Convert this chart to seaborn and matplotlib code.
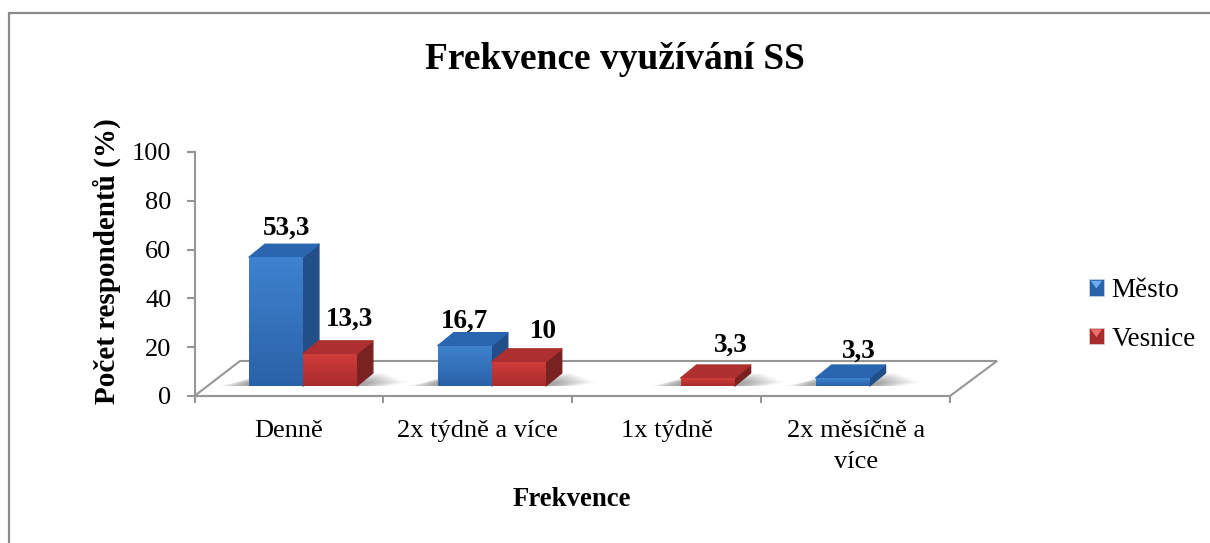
import numpy as np
import pandas as pd
import matplotlib
matplotlib.use("Agg")
import matplotlib.pyplot as plt
from matplotlib.lines import Line2D
from matplotlib.patches import Polygon, Rectangle
from matplotlib.transforms import Affine2D
from matplotlib.legend_handler import HandlerBase
import seaborn as sns

categories = ["Denně", "2x týdně a více", "1x týdně", "2x měsíčně a\nvíce"]
mesto = [53.3, 16.7, 0, 3.3]
vesnice = [13.3, 10, 3.3, 0]
mesto_labels = ["53,3", "16,7", "", "3,3"]
vesnice_labels = ["13,3", "10", "3,3", ""]
series_names = ["Město", "Vesnice"]
title_text = "Frekvence využívání SS"
ylabel_text = "Počet respondentů (%)"
xlabel_text = "Frekvence"

W, H = 1210, 543
sns.set_style("white")
plt.rcParams["font.family"] = ["Liberation Serif", "DejaVu Serif"]
plt.rcParams["text.color"] = "black"

df = pd.DataFrame({
    "cat": categories * 2,
    "val": mesto + vesnice,
    "series": [series_names[0]] * 4 + [series_names[1]] * 4,
})

fig = plt.figure(figsize=(W / 100, H / 100), dpi=100, facecolor="white")
ax = fig.add_axes([194.5 / W, 1 - 396 / H, 755.5 / W, 244 / H])
ax.patch.set_alpha(0)

pal = {"Město": "#3570b8", "Vesnice": "#bb3232"}
sns.barplot(data=df, x="cat", y="val", hue="series", hue_order=series_names,
            palette=pal, width=0.571, gap=0, saturation=1, legend=False, ax=ax,
            edgecolor="none", linewidth=0)
ax.set_xlim(-0.5, 3.5)
ax.set_ylim(0, 100)

px = Affine2D().scale(1 / W, -1 / H).translate(0, 1) + fig.transFigure
GRAY = "#969696"

# floor
floor = [(194.5, 396), (240, 361), (997, 361), (950, 396)]
ax.add_artist(Polygon(floor, closed=True, fill=False, ec=GRAY, lw=1.5, transform=px,
                      clip_on=False, zorder=0.5))

# outer frame (top and left only are visible)
fig.add_artist(Line2D([8.5, 8.5, W], [H, 13, 13], color="#8a8a8a", lw=1.6, transform=px,
                      solid_joinstyle="miter"))

# axes
for s in ["top", "right"]:
    ax.spines[s].set_visible(False)
for s in ["left", "bottom"]:
    ax.spines[s].set_color(GRAY)
    ax.spines[s].set_linewidth(1.5)
ax.set_yticks(np.arange(0, 101, 20))
ax.set_xticks([-0.5, 0.5, 1.5, 2.5, 3.5])
ax.set_xticklabels([])
ax.set_xticks(range(4), categories, minor=True)
ax.tick_params(axis="y", which="major", left=True, length=6, width=1.5, color=GRAY, labelsize=19, pad=10.5,
               labelcolor="black")
ax.tick_params(axis="x", which="major", bottom=True, length=5, width=1.5, color=GRAY)
ax.tick_params(axis="x", which="minor", bottom=False, length=0, labelsize=19, pad=17, labelcolor="black")
for t in ax.get_xticklabels(minor=True):
    t.set_linespacing(1.55)
ax.set_xlabel("")
ax.set_ylabel("")

px_x = 189 / 1.0      # pixels per category
px_y = 244 / 100.0    # pixels per percent
base = 10 / px_y
shift = 14 / px_x
dx, dy = 16 / px_x, 13 / px_y
scale = 0.99

styles = [
    dict(top="#3f82cf", bot="#2a62a8", side="#234f88", cap="#2a66b0"),
    dict(top="#d23c3c", bot="#a82c2c", side="#7a2222", cap="#ad2f2f"),
]


def gradient(c1, c2):
    a = np.array(matplotlib.colors.to_rgb(c1))
    b = np.array(matplotlib.colors.to_rgb(c2))
    t = np.linspace(0, 1, 64)[:, None]
    return (a * (1 - t) + b * t)[:, None, :]


# soft shadows on the floor
for i in range(4):
    vals = [mesto[i], vesnice[i]]
    idx = [k for k, v in enumerate(vals) if v > 0]
    if not idx:
        continue
    x0 = i + shift + (idx[0] - 1) * 0.2855
    x1 = i + shift + (idx[-1]) * 0.2855
    n = 10
    for g in range(n):
        e = (n - g) * 0.014
        poly = [(x0 - 0.02 - e, base),
                (x1 + 0.02 + e, base),
                (x1 + dx + 0.05 + e, base + dy * (0.3 + 0.075 * g)),
                (x0 + dx - e, base + dy * (0.3 + 0.075 * g))]
        ax.add_patch(Polygon(poly, closed=True, fc="#000000", ec="none", alpha=0.04, zorder=0.8))

for s_idx, cont in enumerate(ax.containers):
    st = styles[s_idx]
    z = 2 + 2 * s_idx
    for bar, v in zip(cont, [mesto, vesnice][s_idx]):
        if v <= 0:
            bar.set_visible(False)
            continue
        bar.set_x(bar.get_x() + shift)
        bar.set_y(base)
        bar.set_height(v * scale)
        bar.set_zorder(z + 1)
        x0, x1 = bar.get_x(), bar.get_x() + bar.get_width()
        y0, y1 = base, base + bar.get_height()
        ax.add_patch(Polygon([(x1, y0), (x1 + dx, y0 + dy), (x1 + dx, y1 + dy), (x1, y1)], closed=True,
                             fc=st["side"], ec=st["side"], lw=1, joinstyle="round", zorder=z))
        ax.add_patch(Polygon([(x0, y1), (x1, y1), (x1 + dx, y1 + dy), (x0 + dx, y1 + dy)], closed=True,
                             fc=st["cap"], ec=st["cap"], lw=1, joinstyle="round", zorder=z))
        im = ax.imshow(gradient(st["top"], st["bot"]), extent=(x0, x1, y0, y1), aspect="auto", zorder=z + 1.5,
                       interpolation="bilinear")
        im.set_clip_path(bar)
ax.set_xlim(-0.5, 3.5)
ax.set_ylim(0, 100)

# data labels, offset in pixels from each bar's front-top centre
label_offsets = {
    (0, 0): (11, -29), (1, 0): (20, -35),
    (0, 1): (0, -24), (1, 1): (25, -30),
    (1, 2): (23, -33), (0, 3): (16, -27),
}
for s_idx, cont in enumerate(ax.containers):
    texts = [mesto_labels, vesnice_labels][s_idx]
    for c_idx, bar in enumerate(cont):
        if not texts[c_idx]:
            continue
        ox, oy = label_offsets[(s_idx, c_idx)]
        ax.annotate(texts[c_idx], (bar.get_x() + bar.get_width() / 2, bar.get_y() + bar.get_height()),
                    xytext=(ox, -oy), textcoords="offset pixels", ha="center", va="center",
                    fontsize=19.5, fontweight="bold", color="black", zorder=10, annotation_clip=False)

# titles
fig.text(615 / W, 1 - 60 / H, title_text, ha="center", va="center", fontsize=26.9, fontweight="bold", color="black")
fig.text(107 / W, 1 - 261.5 / H, ylabel_text, ha="center", va="center", rotation=90, fontsize=21, fontweight="bold",
         color="black")
fig.text(572 / W, 1 - 500 / H, xlabel_text, ha="center", va="center", fontsize=19.3, fontweight="bold", color="black")


# legend
class GradHandler(HandlerBase):
    def create_artists(self, legend, orig, xd, yd, w, h, fs, trans):
        st = styles[series_names.index(orig.get_label())]
        r = Rectangle((-xd, -yd), w, h, fc=st["bot"], ec="#dddddd", lw=0.4, transform=trans)
        tri = Polygon([(-xd + 0.12 * w, -yd + h * 0.92), (-xd + 0.88 * w, -yd + h * 0.92),
                       (-xd + 0.5 * w, -yd + h * 0.45)], closed=True,
                      fc="#6aaef0" if st is styles[0] else "#f07070", ec="none", transform=trans)
        return [r, tri]


handles = [Rectangle((0, 0), 1, 1, label=n) for n in series_names]
leg = fig.legend(handles=handles, labels=series_names, handler_map={Rectangle: GradHandler()},
                 loc="center left", bbox_to_anchor=(1070 / W, 1 - 315 / H), frameon=False,
                 fontsize=19.5, handlelength=0.55, handleheight=0.55, handletextpad=0.28,
                 labelspacing=0.87, borderpad=0.2, labelcolor="black")

fig.savefig("out.png", dpi=100, facecolor="white")
